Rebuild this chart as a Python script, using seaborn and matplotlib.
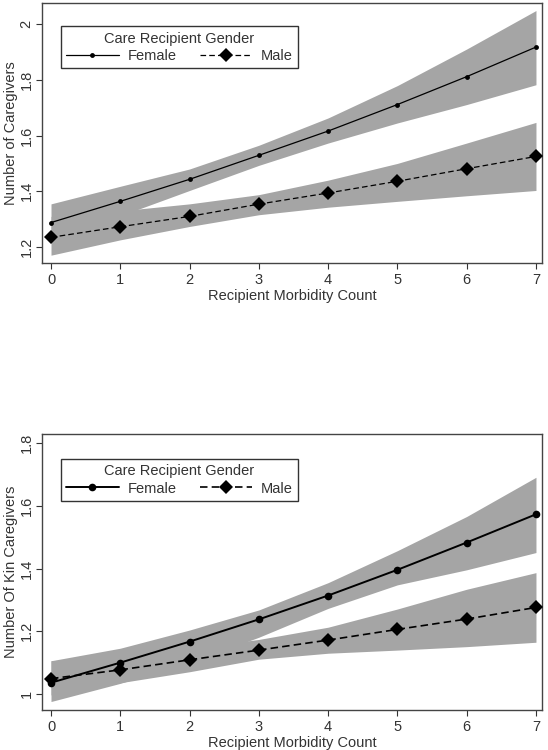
import numpy as np
import pandas as pd
import matplotlib
matplotlib.use("Agg")
import matplotlib.pyplot as plt
import seaborn as sns
from matplotlib.ticker import FormatStrFormatter

# morbidity count on the x axis
morbidity = [0, 1, 2, 3, 4, 5, 6, 7]

# panel 1: number of caregivers
cg_female = [1.288, 1.364, 1.443, 1.529, 1.616, 1.711, 1.811, 1.917]
cg_female_hi = [1.355, 1.418, 1.480, 1.565, 1.663, 1.779, 1.910, 2.048]
cg_female_lo = [1.225, 1.312, 1.403, 1.493, 1.573, 1.645, 1.711, 1.782]
cg_male = [1.235, 1.273, 1.310, 1.354, 1.394, 1.436, 1.481, 1.525]
cg_male_hi = [1.310, 1.330, 1.355, 1.388, 1.440, 1.500, 1.573, 1.647]
cg_male_lo = [1.171, 1.226, 1.274, 1.316, 1.343, 1.364, 1.384, 1.403]

# panel 2: number of kin caregivers
kin_female = [1.036, 1.100, 1.167, 1.238, 1.314, 1.396, 1.483, 1.573]
kin_female_hi = [1.106, 1.146, 1.204, 1.268, 1.355, 1.457, 1.566, 1.691]
kin_female_lo = [0.976, 1.034, 1.100, 1.181, 1.273, 1.348, 1.396, 1.451]
kin_male = [1.049, 1.077, 1.109, 1.140, 1.172, 1.206, 1.239, 1.276]
kin_male_hi = [1.106, 1.119, 1.146, 1.174, 1.213, 1.271, 1.334, 1.387]
kin_male_lo = [0.997, 1.036, 1.071, 1.111, 1.130, 1.140, 1.151, 1.165]

sns.set_style("ticks")
plt.rcParams["font.family"] = ["Liberation Sans", "DejaVu Sans"]
text_color = "#333333"
band_color = "#a5a5a5"

fig = plt.figure(figsize=(5.48, 7.5), dpi=100)
ax1 = fig.add_axes([42 / 548, 1 - 263 / 750, 500 / 548, 260 / 750])
ax2 = fig.add_axes([42 / 548, 1 - 710 / 750, 500 / 548, 276 / 750])


def panel(ax, female, f_lo, f_hi, male, m_lo, m_hi, ylabel, yticks, ylim,
          f_ms, f_lw, m_lw):
    # confidence bands first, lines on top
    ax.fill_between(morbidity, f_lo, f_hi, color=band_color, lw=0, zorder=1)
    ax.fill_between(morbidity, m_lo, m_hi, color=band_color, lw=0, zorder=1)

    df_f = pd.DataFrame({"x": morbidity, "y": female})
    df_m = pd.DataFrame({"x": morbidity, "y": male})
    sns.lineplot(data=df_f, x="x", y="y", ax=ax, color="black", lw=f_lw,
                 marker="o", markersize=f_ms, markeredgewidth=0,
                 zorder=3, label="Female")
    sns.lineplot(data=df_m, x="x", y="y", ax=ax, color="black", lw=m_lw,
                 marker="D", markersize=7, markeredgewidth=0,
                 dashes=(4.5, 2.5), zorder=3, label="Male")

    ax.set_xlim(-0.13, 7.087)
    ax.set_ylim(*ylim)
    ax.set_xticks(morbidity)
    ax.set_yticks(yticks)
    ax.yaxis.set_major_formatter(FormatStrFormatter("%g"))
    for lbl in ax.get_yticklabels():
        lbl.set_rotation(90)
        lbl.set_va("center")
    ax.tick_params(axis="both", labelsize=10.5, colors=text_color,
                   length=4, width=0.8, labelcolor=text_color)
    ax.tick_params(axis="y", pad=2)
    ax.set_xlabel("Recipient Morbidity Count", fontsize=10.5,
                  color=text_color, labelpad=1)
    ax.set_ylabel(ylabel, fontsize=10.5, color=text_color, labelpad=1)
    for s in ax.spines.values():
        s.set_color("#444444")
        s.set_linewidth(1.0)

    handles, labels = ax.get_legend_handles_labels()
    leg = ax.legend(handles, labels, title="Care Recipient Gender", ncol=2,
                    loc="upper left", bbox_to_anchor=(0.038, 0.91),
                    borderaxespad=0, fontsize=10.5, title_fontsize=10.5,
                    handlelength=3.6, handletextpad=0.6, columnspacing=1.6,
                    fancybox=False, framealpha=1, edgecolor="#333333",
                    borderpad=0.35, labelspacing=0.25)
    leg.get_frame().set_linewidth(1.0)
    for t in leg.get_texts():
        t.set_color(text_color)
    leg.get_title().set_color(text_color)


panel(ax1, cg_female, cg_female_lo, cg_female_hi,
      cg_male, cg_male_lo, cg_male_hi,
      "Number of Caregivers", [1.2, 1.4, 1.6, 1.8, 2.0], (1.143, 2.075),
      3.5, 0.9, 0.9)
panel(ax2, kin_female, kin_female_lo, kin_female_hi,
      kin_male, kin_male_lo, kin_male_hi,
      "Number Of Kin Caregivers", [1.0, 1.2, 1.4, 1.6, 1.8], (0.949, 1.829),
      5.5, 1.4, 1.2)

fig.savefig("out.png", dpi=100)
